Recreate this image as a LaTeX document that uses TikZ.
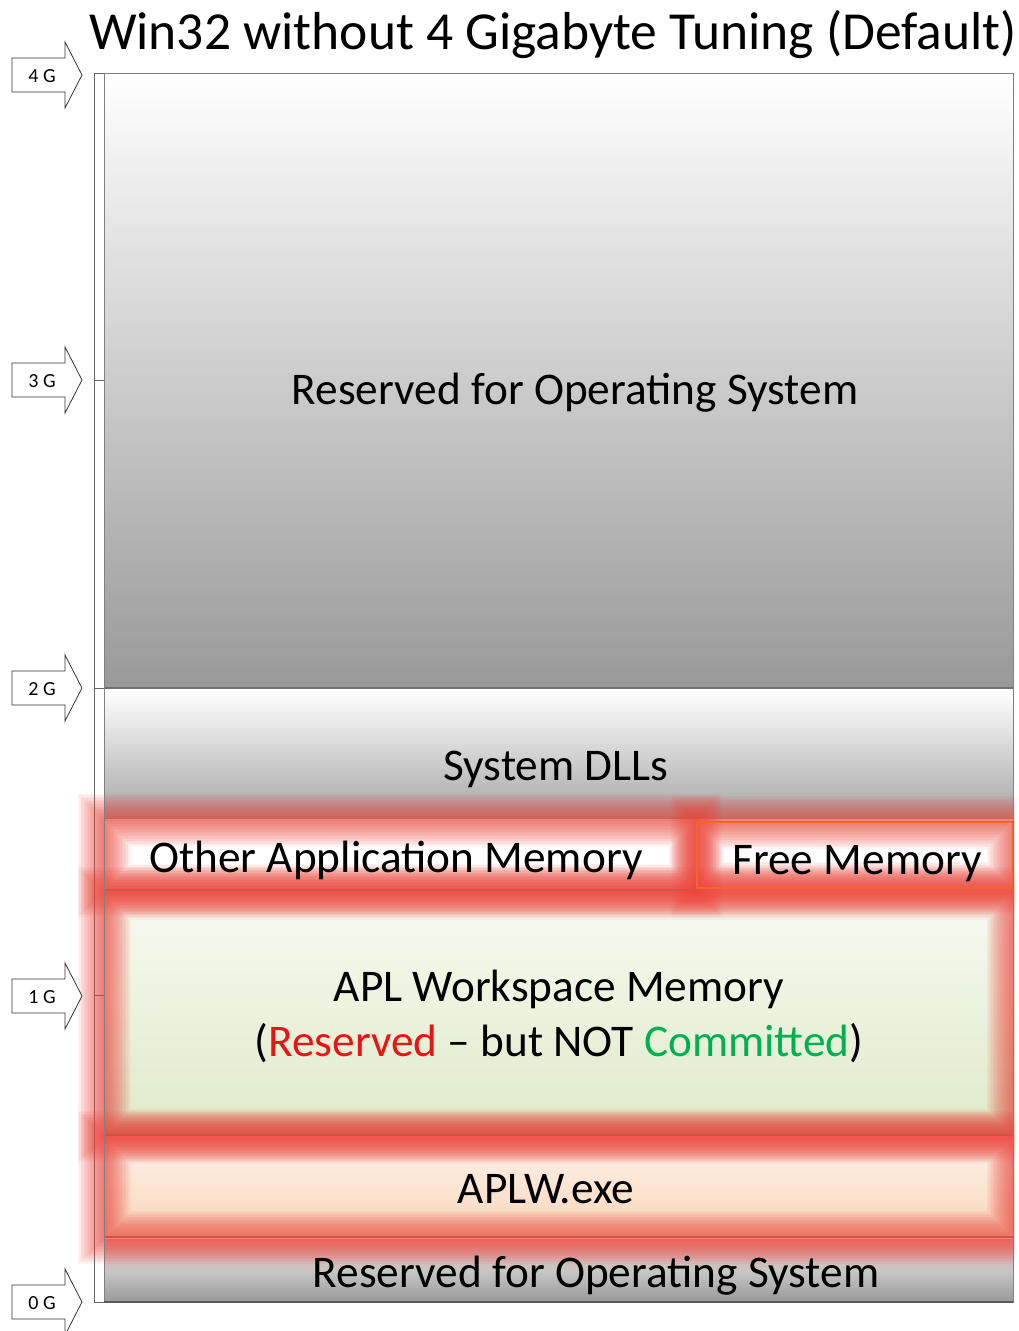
\documentclass[tikz,border=0pt]{standalone}
\usepackage{fontspec}
\setmainfont{Carlito}
\definecolor{glowred}{RGB}{238,70,60}
\definecolor{sepred}{RGB}{205,85,70}
\definecolor{freeorange}{RGB}{240,100,50}
\definecolor{txtred}{RGB}{235,20,20}
\definecolor{txtgreen}{RGB}{0,176,80}
\definecolor{aplgreentop}{RGB}{248,250,242}
\definecolor{aplgreenbot}{RGB}{222,234,200}
\definecolor{peachtop}{RGB}{253,244,236}
\definecolor{peachbot}{RGB}{250,212,184}
\definecolor{pinktop}{RGB}{240,160,160}
\newcommand\glowrect[2]{%
  \foreach \gw in {2,5,...,54}{%
    \draw[glowred, line width=\gw pt, opacity=0.058] #1 rectangle #2;}}
\newcommand\memarrow[3]{%
  \draw[arrowbox] (12,{#1-17}) -- (65,{#1-17}) -- (65,{#1-33}) -- (82,#1)
     -- (65,{#1+33}) -- (65,{#1+17}) -- (12,{#1+17}) -- cycle;
  \node[arrowlabel] (#3) at (42,{#1+7}) {#2};}
\begin{document}
\begin{tikzpicture}[x=1pt,y=-1pt,
  arrowbox/.style={draw=black!80, line width=0.8pt, fill=white},
  arrowlabel/.style={font=\fontsize{20}{20}\selectfont, anchor=base, inner sep=0pt},
  memlabel/.style={font=\fontsize{45.3}{45}\selectfont, anchor=base, inner sep=0pt},
  axisline/.style={draw=black!60, line width=1pt},
  sepline/.style={draw=sepred, line width=1.5pt}]
\useasboundingbox (0,0) rectangle (1019,1331);
\fill[white] (0,0) rectangle (1019,1331);

% title
\node[font=\fontsize{53.5}{54}\selectfont, anchor=base, inner sep=0pt] (title) at (553,49)
  {Win32 without 4 Gigabyte Tuning (Default)};

% axis
\coordinate (axtop) at (94,73);
\coordinate (axbot) at (94,1302);
\draw[axisline] (axtop) -- (axbot);
\foreach \ty in {73,380,688,995,1302}{\draw[axisline] (94,\ty) -- (104,\ty);}

% top reserved region
\fill[top color=white, bottom color=black!40] (104,73) rectangle (1013,688);
% system DLLs region
\fill[top color=white, bottom color=black!35] (104,690) rectangle (1013,818);
% other app & free memory interiors
\fill[white] (104,820) rectangle (695,890);
\fill[white] (697,822) rectangle (1013,888);
% APL workspace
\fill[top color=aplgreentop, bottom color=aplgreenbot] (104,893) rectangle (1013,1135);
% APLW.exe
\fill[top color=peachtop, bottom color=peachbot] (104,1137) rectangle (1013,1237);
% bottom reserved
\fill[top color=pinktop, bottom color=black!40, middle color=black!22] (104,1239) rectangle (1013,1302);

% glows
\begin{scope}
\clip (60,60) rectangle (1014,1331);
\glowrect{(104,820)}{(695,890)}
\glowrect{(697,822)}{(1013,888)}
\glowrect{(104,893)}{(1013,1135)}
\glowrect{(104,1137)}{(1013,1237)}
\end{scope}
\draw[freeorange, line width=2.5pt] (697,822) rectangle (1013,888);

% separators and frame
\draw[draw=black!55, line width=2pt] (104,688) -- (1013,688);
\draw[sepline] (104,890) -- (695,890);
\draw[sepline] (104,1135) -- (1013,1135);
\draw[sepline] (104,1237) -- (1013,1237);
\draw[draw=black!50, line width=1pt] (104,73) rectangle (1013,1302);
\draw[draw=black!65, line width=2pt] (104,1302) -- (1013,1302);

% arrows
\memarrow{75}{4 G}{g4}
\memarrow{380}{3 G}{g3}
\memarrow{688}{2 G}{g2}
\memarrow{996}{1 G}{g1}
\memarrow{1302}{0 G}{g0}

% labels
\node[memlabel] (ostop) at (575,404) {Reserved for Operating System};
\node[memlabel] (dlls) at (556,780) {System DLLs};
\node[memlabel] (other) at (396,872) {Other Application Memory};
\node[memlabel] (free) at (857,874) {Free Memory};
\node[memlabel] (apl1) at (559,1001) {APL Workspace Memory};
\node[memlabel] (apl2) at (559,1056) {(\textcolor{txtred}{Reserved} – but NOT \textcolor{txtgreen}{Committed})};
\node[memlabel] (aplw) at (546,1203) {APLW.exe};
\node[memlabel] (osbot) at (596,1287) {Reserved for Operating System};
\end{tikzpicture}
\end{document}
